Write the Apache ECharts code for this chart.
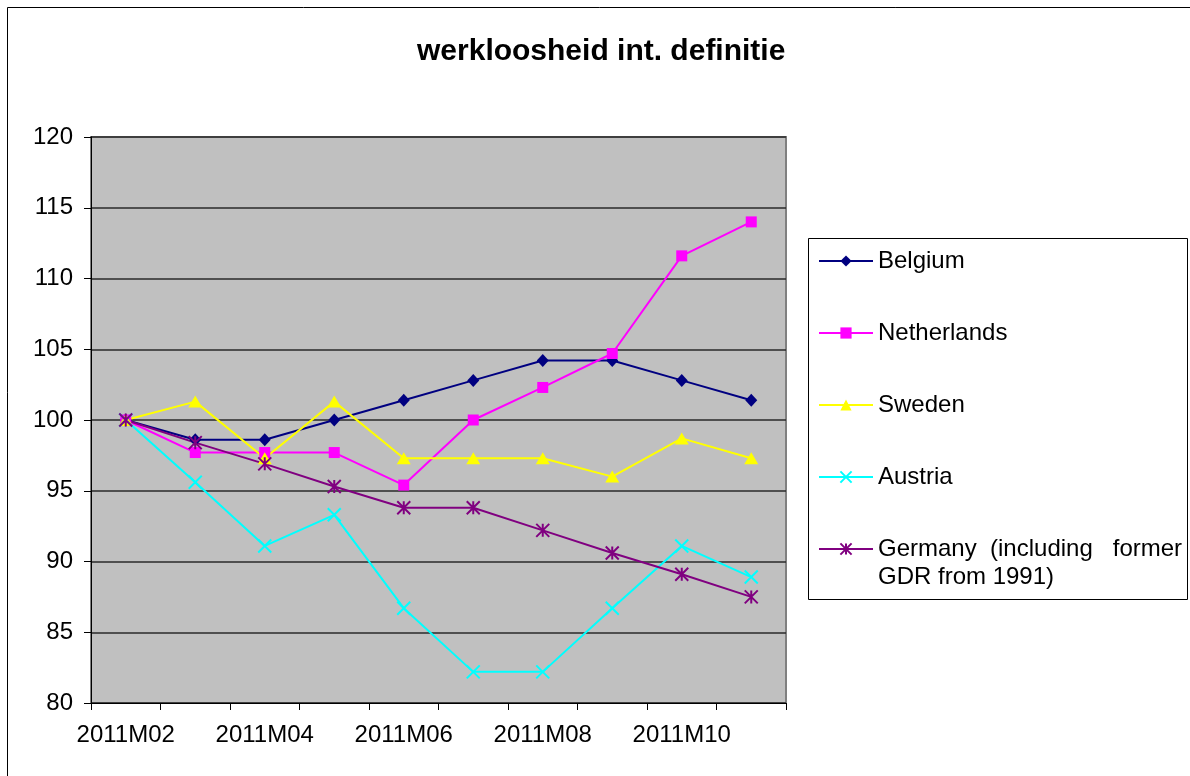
<!DOCTYPE html>
<html>
<head>
<meta charset="utf-8">
<title>werkloosheid int. definitie</title>
<script src="https://cdn.jsdelivr.net/npm/echarts@6.0.0/dist/echarts.min.js"></script>
<style>
  html, body { margin: 0; padding: 0; background: #fff; }
  #chart { width: 1190px; height: 776px; }
</style>
</head>
<body>
<div id="chart"></div>
<script>
const categories = ['2011M02', '2011M03', '2011M04', '2011M05', '2011M06', '2011M07', '2011M08', '2011M09', '2011M10', '2011M11']
const belgium = [100, 98.6, 98.6, 100, 101.4, 102.8, 104.2, 104.2, 102.8, 101.4]
const netherlands = [100, 97.7, 97.7, 97.7, 95.4, 100, 102.3, 104.7, 111.6, 114.0]
const sweden = [100, 101.3, 97.3, 101.3, 97.3, 97.3, 97.3, 96.0, 98.7, 97.3]
const austria = [100, 95.6, 91.1, 93.3, 86.7, 82.2, 82.2, 86.7, 91.1, 88.9]
const germany = [100, 98.4, 96.9, 95.3, 93.8, 93.8, 92.2, 90.6, 89.1, 87.5]

const GERMANY = 'Germany (including former GDR from 1991)'
const FONT = '"Liberation Sans", Arial, sans-serif'
const LH = 28

const chart = echarts.init(document.getElementById('chart'))

function lineSeries(name, data, color, symbol, symbolSize, stroke) {
  return {
    name,
    type: 'line',
    data,
    symbol,
    symbolSize,
    showAllSymbol: true,
    itemStyle: stroke
      ? { color, borderColor: color, borderWidth: 2 }
      : { color, borderWidth: 0 },
    lineStyle: { color, width: 2 },
    emphasis: { disabled: true },
  }
}

// every legend text is 3 lines tall so the items stack evenly and
// the first real line sits on the icon (the wrapped Germany line hangs below)
function legendText(name) {
  if (name === GERMANY) return ' \nGermany  (including   former\nGDR from 1991)'
  return ' \n' + name + '\n '
}

const option = {
  animation: false,
  backgroundColor: '#fff',
  title: {
    text: 'werkloosheid int. definitie',
    left: 417,
    top: 37,
    padding: 0,
    textStyle: { fontFamily: FONT, fontSize: 30, fontWeight: 'bold', color: '#000' },
  },
  graphic: [
    {
      type: 'rect',
      shape: { x: 7.5, y: 7.5, width: 1200, height: 800 },
      style: { fill: 'none', stroke: '#000', lineWidth: 1 },
      silent: true,
    },
    {
      type: 'rect',
      shape: { x: 808.5, y: 238.5, width: 379, height: 361 },
      style: { fill: 'none', stroke: '#000', lineWidth: 1 },
      silent: true,
    },
  ],
  legend: {
    orient: 'vertical',
    left: 818,
    top: 261 - 7 - (LH * 3 - 14) / 2,
    padding: 0,
    itemWidth: 54,
    itemHeight: 14,
    itemGap: 72 - LH * 3,
    selectedMode: false,
    textStyle: { fontFamily: FONT, fontSize: 24, color: '#000', lineHeight: LH },
    data: ['Belgium', 'Netherlands', 'Sweden', 'Austria', GERMANY],
    formatter: legendText,
  },
  grid: {
    left: 91,
    right: 1190 - 786,
    top: 137,
    bottom: 776 - 703,
    show: true,
    backgroundColor: '#C0C0C0',
    borderColor: '#808080',
    borderWidth: 2,
    outerBoundsMode: 'none',
  },
  xAxis: {
    type: 'category',
    data: categories,
    boundaryGap: true,
    axisLine: { show: true, lineStyle: { color: '#000', width: 1 } },
    axisTick: { show: true, interval: 0, length: 7, lineStyle: { color: '#000' } },
    axisLabel: { interval: 1, fontFamily: FONT, fontSize: 24, color: '#000', margin: 20 },
    splitLine: { show: false },
  },
  yAxis: {
    type: 'value',
    min: 80,
    max: 120,
    interval: 5,
    axisLine: { show: true, lineStyle: { color: '#000', width: 1 } },
    axisTick: { show: true, length: 7, lineStyle: { color: '#000' } },
    axisLabel: { fontFamily: FONT, fontSize: 24, color: '#000', margin: 18 },
    splitLine: { show: true, lineStyle: { color: '#2a2a2a', width: 1.5 } },
  },
  series: [
    lineSeries('Belgium', belgium, '#000080', 'diamond', [12, 13], false),
    lineSeries('Netherlands', netherlands, '#FF00FF', 'rect', 11, false),
    lineSeries('Sweden', sweden, '#FFFF00', 'triangle', [14, 12], false),
    lineSeries('Austria', austria, '#00FFFF', 'path://M0,0L10,10M10,0L0,10', 13, true),
    lineSeries(GERMANY, germany, '#800080', 'path://M0,0L10,10M10,0L0,10M5,0L5,10', 13, true),
  ],
}

chart.setOption(option)
</script>
</body>
</html>
